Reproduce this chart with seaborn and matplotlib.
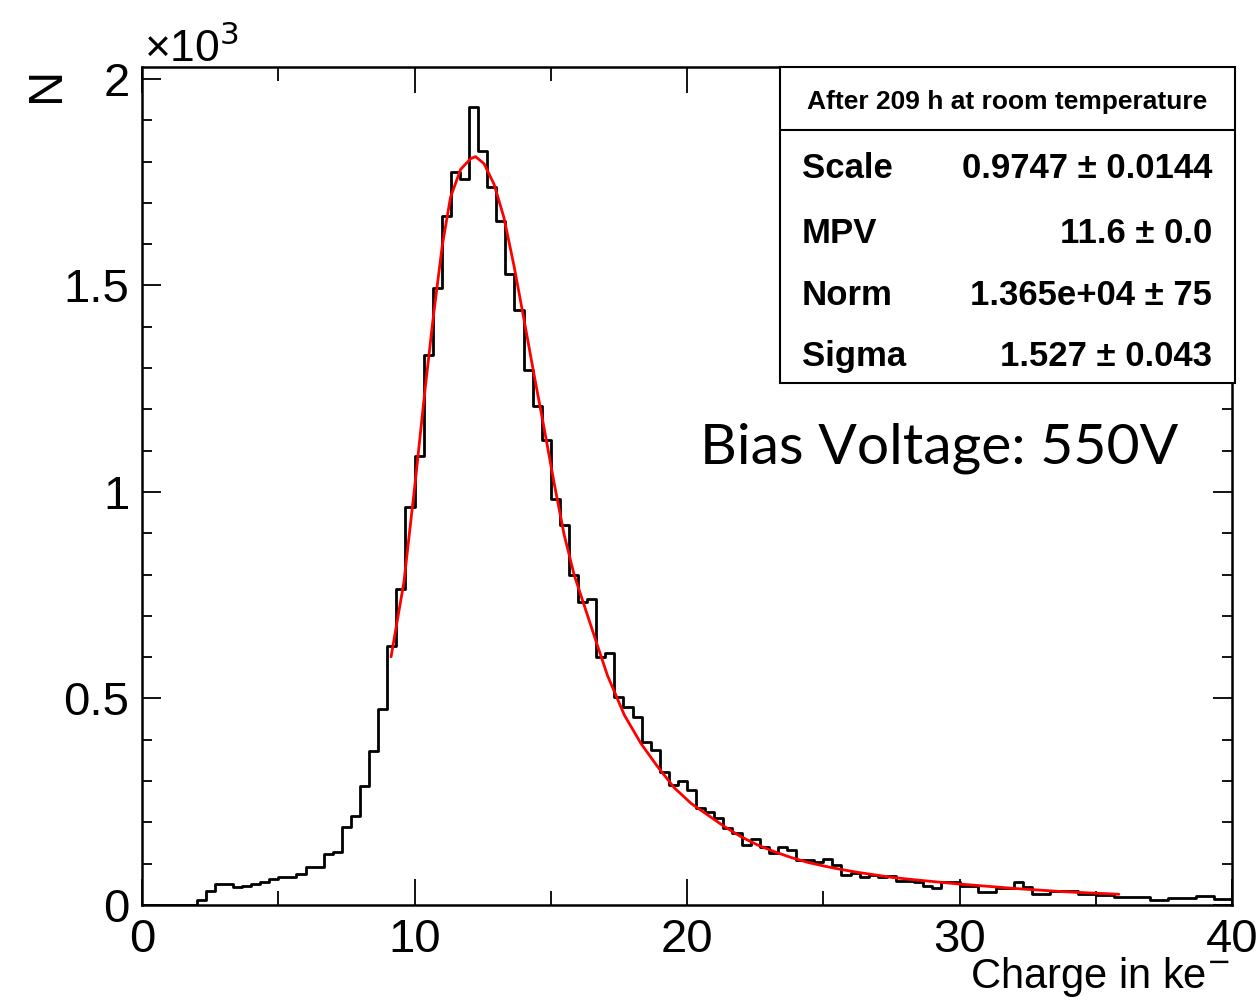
import numpy as np
import pandas as pd
import matplotlib
matplotlib.use("Agg")
import matplotlib.pyplot as plt
import seaborn as sns
from matplotlib.ticker import MultipleLocator
from matplotlib.patches import Rectangle

# histogram: 120 bins of 1/3 ke between 0 and 40
bin_edges = list(np.linspace(0, 40, 121))
counts = [
    0, 0, 0, 0, 0, 0,
    12, 35, 50, 52, 44, 47, 52, 56, 62, 69,
    69, 75, 91, 91, 123, 129, 189, 216, 289, 373,
    474, 627, 764, 964, 1087, 1332, 1494, 1668, 1774, 1758,
    1931, 1825, 1738, 1655, 1529, 1440, 1296, 1208, 1126, 983,
    920, 799, 733, 740, 600, 609, 504, 479, 454, 395,
    375, 323, 290, 300, 278, 234, 226, 210, 186, 174,
    145, 161, 141, 127, 140, 133, 109, 109, 105, 111,
    97, 73, 77, 69, 73, 67, 70, 58, 57, 55,
    45, 40, 55, 55, 47, 47, 32, 32, 40, 40,
    55, 44, 27, 27, 35, 35, 35, 27, 27, 24,
    24, 19, 19, 19, 19, 12, 12, 16, 16, 16,
    22, 22, 14, 14,
]

# fitted curve
fit_x = [9.14, 9.61, 10.04, 10.40, 10.71, 11.02, 11.32, 11.69, 12.06, 12.24,
         12.55, 12.92, 13.28, 13.65, 14.02, 14.39, 14.75, 15.12, 15.49, 15.86,
         16.22, 16.47, 16.72, 17.08, 17.70, 18.31, 18.92, 19.53, 20.15, 20.76,
         21.37, 21.99, 22.60, 23.21, 23.82, 24.44, 25.05, 25.66, 26.27, 26.89,
         27.50, 28.36, 29.95, 32.03, 33.87, 35.85]
fit_y = [601, 781, 1032, 1256, 1435, 1597, 1713, 1781, 1807, 1812,
         1795, 1745, 1665, 1548, 1417, 1283, 1157, 1023, 897, 799,
         727, 677, 627, 556, 460, 391, 335, 284, 246, 218,
         190, 165, 145, 129, 115, 103, 94, 86, 79, 73,
         67, 61, 51, 40, 32, 26]

stat_names = ["Scale", "MPV", "Norm", "Sigma"]
stat_values = ["0.9747 \u00b1 0.0144", "11.6 \u00b1 0.0", "1.365e+04 \u00b1 75", "1.527 \u00b1 0.043"]
box_title = "After 209 h at room temperature"

y_ticks = [0, 500, 1000, 1500, 2000]
y_labels = ["0", "0.5", "1", "1.5", "2"]

sns.set_style("ticks")
plt.rcParams['font.family'] = ['Liberation Sans', 'DejaVu Sans']
plt.rcParams['text.color'] = 'black'
plt.rcParams['xtick.color'] = 'black'
plt.rcParams['ytick.color'] = 'black'
plt.rcParams['axes.edgecolor'] = 'black'

W, H = 1257, 1000
fig = plt.figure(figsize=(W / 100, H / 100), dpi=100)
ax = fig.add_axes([142 / W, 1 - 905 / H, 1090 / W, 838 / H])

hist_df = pd.DataFrame({
    "charge": [(a + b) / 2 for a, b in zip(bin_edges[:-1], bin_edges[1:])],
    "n": counts,
})
sns.histplot(data=hist_df, x="charge", weights="n", bins=bin_edges, element="step",
             fill=False, color="black", linewidth=2.0, ax=ax)
sns.lineplot(x=fit_x, y=fit_y, color="red", linewidth=2.0, ax=ax)

ax.set_xlim(0, 40)
ax.set_ylim(0, 2029)
ax.set_xlabel("")
ax.set_ylabel("")
ax.set_xticks([0, 10, 20, 30, 40])
ax.xaxis.set_minor_locator(MultipleLocator(5))
ax.set_yticks(y_ticks, labels=y_labels)
ax.yaxis.set_minor_locator(MultipleLocator(100))
for sp in ax.spines.values():
    sp.set_linewidth(1.8)
    sp.set_visible(True)
ax.tick_params(axis="both", which="both", direction="in", top=True, right=True,
               width=1.3, labelsize=34, pad=9, colors="black")
ax.tick_params(axis="x", which="major", length=19)
ax.tick_params(axis="x", which="minor", length=10)
ax.tick_params(axis="y", which="major", length=14)
ax.tick_params(axis="y", which="minor", length=7)

# axis titles, ROOT style
fig.text(46 / W, 1 - 84 / H, "N", rotation=90, ha="center", va="center", fontsize=35)
fig.text(144 / W, 1 - 62 / H, "\u00d710$^3$", ha="left", va="baseline", fontsize=32)
fig.text(1230 / W, 1 - 988 / H, "Charge in ke$^{-}$", ha="right", va="baseline", fontsize=30)

# stats box
box_l, box_r, box_t, box_b, box_sep = 780, 1235, 67, 383, 130
fig.patches.append(Rectangle((box_l / W, 1 - box_b / H), (box_r - box_l) / W, (box_b - box_t) / H,
                             transform=fig.transFigure, fill=True, facecolor="white",
                             edgecolor="black", linewidth=1.5, zorder=5))
fig.lines.append(plt.Line2D([box_l / W, box_r / W], [1 - box_sep / H, 1 - box_sep / H],
                            transform=fig.transFigure, color="black", linewidth=1.5, zorder=6))
fig.text((box_l + box_r) / 2 / W, 1 - 109 / H, box_title, ha="center", va="baseline",
         fontsize=19, fontweight="bold", zorder=7)
row_base = [178, 243, 305, 366]
for name, val, yb in zip(stat_names, stat_values, row_base):
    fig.text(802 / W, 1 - yb / H, name, ha="left", va="baseline", fontsize=25,
             fontweight="bold", zorder=7)
    fig.text(1212 / W, 1 - yb / H, val, ha="right", va="baseline", fontsize=25,
             fontweight="bold", zorder=7)

fig.text(700 / W, 1 - 464 / H, "Bias Voltage: 550V", ha="left", va="baseline",
         fontsize=41, family=["Lato", "DejaVu Sans"])

fig.savefig("out.png", dpi=100)
